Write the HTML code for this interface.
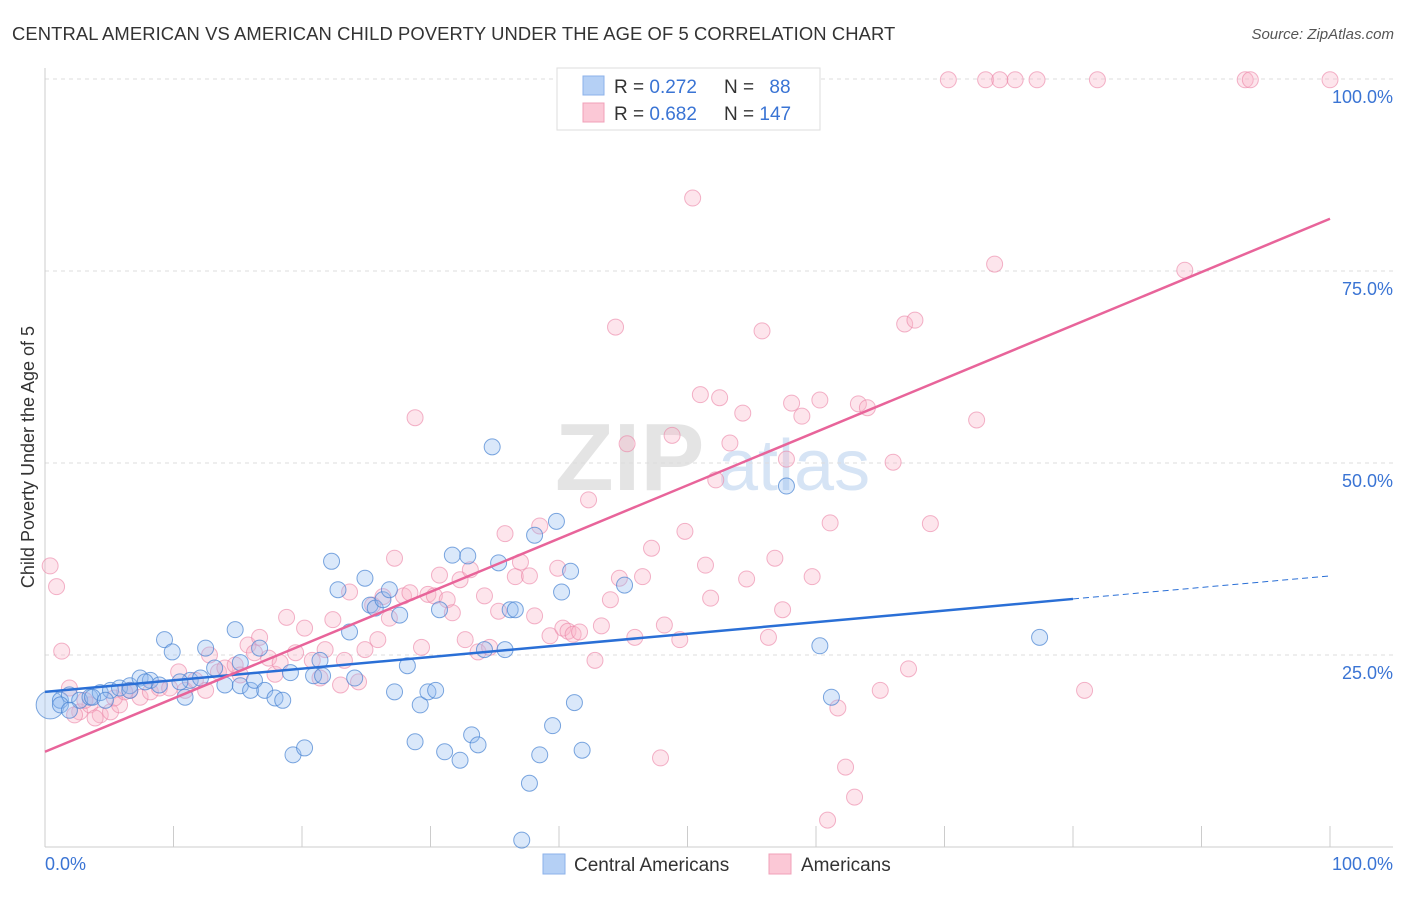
<!DOCTYPE html>
<html><head><meta charset="utf-8">
<style>
body{margin:0;background:#fff;font-family:"Liberation Sans",sans-serif;}
svg text{font-family:"Liberation Sans",sans-serif;}
</style></head>
<body>
<svg id="chart" width="1406" height="892" xmlns="http://www.w3.org/2000/svg">
<text x="12" y="40" font-size="18.4" letter-spacing="0.1" fill="#333">CENTRAL AMERICAN VS AMERICAN CHILD POVERTY UNDER THE AGE OF 5 CORRELATION CHART</text>
<text x="1394" y="39" font-size="15" fill="#555" text-anchor="end" font-style="italic">Source: ZipAtlas.com</text>
<text x="555" y="490" font-size="96" fill="#e4e4e4" font-family="Liberation Serif" font-weight="bold">ZIP</text>
<text x="718" y="490" font-size="72" fill="#d6e4f5">atlas</text>
<g id="grid"></g>
<g id="axes"></g>
<g id="pink"></g>
<g id="blue"></g>
<g id="lines"></g>
<text transform="translate(34,457) rotate(-90)" font-size="18" fill="#333" text-anchor="middle">Child Poverty Under the Age of 5</text>
<g>
<rect x="557" y="68" width="263" height="62" fill="#fff" stroke="#ddd"/>
<rect x="583" y="76" width="21" height="19" fill="#b5d0f5" stroke="#8cb2ea"/>
<rect x="583" y="103" width="21" height="19" fill="#fbc8d6" stroke="#f0a0b8"/>
<text x="614" y="93" font-size="19" fill="#333">R = <tspan fill="#3a74d4">0.272</tspan></text>
<text x="724" y="93" font-size="19" fill="#333">N = <tspan fill="#3a74d4" dx="10">88</tspan></text>
<text x="614" y="120" font-size="19" fill="#333">R = <tspan fill="#3a74d4">0.682</tspan></text>
<text x="724" y="120" font-size="19" fill="#333">N = <tspan fill="#3a74d4">147</tspan></text>
</g>
<g>
<rect x="543" y="854" width="22" height="20" fill="#b5d0f5" stroke="#8cb2ea"/>
<text x="574" y="871" font-size="19" fill="#333">Central Americans</text>
<rect x="769" y="854" width="22" height="20" fill="#fbc8d6" stroke="#f0a0b8"/>
<text x="801" y="871" font-size="19" fill="#333">Americans</text>
</g>
</svg>
<script>
const yTicks=[25,50,75,100];
const yTickLabels=["25.0%","50.0%","75.0%","100.0%"];
const xTicks=[0,10,20,30,40,50,60,70,80,90,100];
const blueX=[
0.4,1.2,1.9,2.7,3.5,4.3,5.1,5.8,6.6,7.4,
8.2,8.9,9.3,9.9,10.9,11.3,12.1,12.5,13.2,14.0,
14.8,15.2,16.0,16.3,16.7,17.1,17.9,18.5,19.1,19.3,
20.2,20.9,21.4,21.6,22.3,22.8,23.7,24.1,24.9,25.3,
25.7,26.3,26.8,27.6,28.2,27.2,28.8,29.2,29.8,30.4,
30.7,31.1,31.7,32.3,32.9,33.2,33.7,34.2,34.8,35.3,
35.8,36.2,36.6,37.1,37.7,38.1,38.5,39.5,39.8,40.2,
40.9,41.2,41.8,45.1,57.7,60.3,61.2,77.4,1.2,1.9,
3.7,4.7,6.6,7.8,10.5,15.2];
const blueY=[
18.5,19.1,19.8,19.1,19.5,20.1,20.4,20.7,21.0,22.0,
21.7,21.1,27.0,25.4,19.5,21.7,22.0,25.9,23.3,21.1,
28.3,21.0,20.4,21.7,25.9,20.4,19.4,19.1,22.7,12.0,
12.9,22.3,24.3,22.3,37.2,33.5,28.0,22.0,35.0,31.5,
31.1,32.2,33.5,30.2,23.6,20.2,13.7,18.5,20.2,20.4,
30.9,12.4,38.0,11.3,37.9,14.6,13.3,25.7,52.1,37.0,
25.7,30.9,30.9,0.9,8.3,40.6,12.0,15.8,42.4,33.2,
35.9,18.8,12.6,34.1,47.0,26.2,19.5,27.3,18.5,17.8,
19.5,19.1,20.4,21.5,21.5,24.0];
const pinkX=[
0.4,0.9,1.3,1.9,2.7,3.5,4.3,5.1,5.8,6.6,
7.4,8.2,8.9,9.7,10.4,10.9,11.7,12.5,12.8,13.5,
14.0,14.8,15.2,15.8,16.3,16.7,17.4,17.9,18.3,18.8,
19.5,20.2,20.8,21.4,21.8,22.4,23.0,23.3,23.7,24.4,
24.9,25.5,25.9,26.3,26.8,27.2,27.9,28.4,28.8,29.3,
29.8,30.3,30.7,31.3,31.7,32.3,32.7,33.1,33.7,34.2,
34.6,35.3,35.8,36.6,37.0,37.7,38.1,38.5,39.3,39.9,
40.3,40.7,41.1,41.6,42.3,42.8,43.3,44.0,44.4,44.7,
45.3,45.9,46.5,47.2,47.9,48.2,48.8,49.4,49.8,50.4,
51.0,51.4,51.8,52.2,52.5,53.3,54.3,54.6,55.8,56.3,
56.8,57.4,57.7,58.1,58.9,59.7,60.3,61.1,61.7,62.3,
63.0,60.9,63.3,64.0,65.0,66.0,66.9,67.2,67.7,68.9,
72.5,73.9,80.9,88.7,53.7,54.1,57.2,59.1,70.3,73.2,
74.3,75.5,77.2,81.9,93.4,93.8,100,2.3,3.1,3.9,
5.4,6.2];
const pinkY=[
36.6,33.9,25.5,20.7,17.6,18.5,17.2,17.6,18.5,20.4,
19.5,20.2,20.7,20.7,22.8,20.4,21.7,20.4,25.0,22.8,
23.3,23.7,22.4,26.3,25.3,27.3,24.6,22.5,24.0,29.9,
25.3,28.5,24.3,22.0,25.7,29.6,21.1,24.3,33.2,21.5,
25.7,31.5,27.0,32.6,29.8,37.6,32.7,33.1,55.9,26.0,
32.9,32.7,35.4,32.2,30.5,34.8,27.0,36.1,25.4,32.7,
26.0,30.7,40.8,35.2,37.1,35.3,30.1,41.8,27.5,36.3,
28.5,28.1,27.7,28.0,45.2,24.3,28.8,32.2,67.7,35.0,
52.5,27.3,35.2,38.9,11.6,28.9,53.6,27.0,41.1,84.5,
58.9,36.7,32.4,47.8,58.5,52.6,56.5,34.9,67.2,27.3,
37.6,30.9,50.5,57.8,56.1,35.2,58.2,42.2,18.1,10.4,
6.5,3.5,57.7,57.2,20.4,50.1,68.1,23.2,68.6,42.1,
55.6,75.9,20.4,75.1,99.9,99.9,97.3,99.9,99.9,99.9,
99.9,99.9,99.9,99.9,99.9,99.9,99.9,17.2,19.1,16.8,
19.4,20.2];
const blueFit=[[0,20.2],[80,32.3]];
const blueDash=[[80,32.3],[100,35.3]];
const pinkFit=[[0,12.4],[100,81.8]];
const NS="http://www.w3.org/2000/svg";
const X0=45,X1=1330,Y0=847,Y100=79;
function sx(v){return X0+(X1-X0)*v/100;}
function sy(v){return Y0-(Y0-Y100)*v/100;}
function mk(tag,attrs,parent){const e=document.createElementNS(NS,tag);for(const k in attrs)e.setAttribute(k,attrs[k]);parent.appendChild(e);return e;}
const grid=document.getElementById('grid'),axes=document.getElementById('axes');
yTicks.forEach((t,i)=>{
  const l=mk('line',{x1:45,x2:1393,y1:sy(t),y2:sy(t),stroke:'#ddd','stroke-dasharray':'4,4'},grid);
  
  
  const tx=mk('text',{x:1393,y:sy(t)+24,'font-size':18,fill:'#3a74d4','text-anchor':'end'},axes);
  tx.textContent=yTickLabels[i];
  
  
});
mk('line',{x1:45,x2:45,y1:68,y2:847,stroke:'#ccc'},axes);
mk('line',{x1:45,x2:1393,y1:847,y2:847,stroke:'#ccc'},axes);
xTicks.forEach(t=>{
  const l=mk('line',{x1:sx(t),x2:sx(t),y1:826,y2:847,stroke:'#ccc'},axes);
  
  
});
const xl=mk('text',{x:45,y:870,'font-size':18,fill:'#3a74d4'},axes);xl.textContent='0.0%';


const xr=mk('text',{x:1393,y:870,'font-size':18,fill:'#3a74d4','text-anchor':'end'},axes);xr.textContent='100.0%';


const pg=document.getElementById('pink');
pinkX.forEach((x,i)=>{
  const c=mk('circle',{cx:sx(x),cy:sy(pinkY[i]),r:8,fill:'rgba(248,180,200,0.35)',stroke:'rgba(235,130,165,0.6)','stroke-width':1},pg);
  
  
});
const bg=document.getElementById('blue');
blueX.forEach((x,i)=>{
  const c=mk('circle',{cx:sx(x),cy:sy(blueY[i]),r:i==0?14:8,fill:'rgba(150,190,240,0.35)',stroke:'rgba(70,130,210,0.7)','stroke-width':1},bg);
  
  
});
const lg=document.getElementById('lines');
const b=mk('line',{x1:sx(blueFit[0][0]),y1:sy(blueFit[0][1]),x2:sx(blueFit[1][0]),y2:sy(blueFit[1][1]),stroke:'#2a6fd6','stroke-width':2.5},lg);


const bd=mk('line',{x1:sx(blueDash[0][0]),y1:sy(blueDash[0][1]),x2:sx(blueDash[1][0]),y2:sy(blueDash[1][1]),stroke:'#2a6fd6','stroke-width':1,'stroke-dasharray':'6,4'},lg);


const p=mk('line',{x1:sx(pinkFit[0][0]),y1:sy(pinkFit[0][1]),x2:sx(pinkFit[1][0]),y2:sy(pinkFit[1][1]),stroke:'#e8649a','stroke-width':2.5},lg);


</script>
</body></html>
